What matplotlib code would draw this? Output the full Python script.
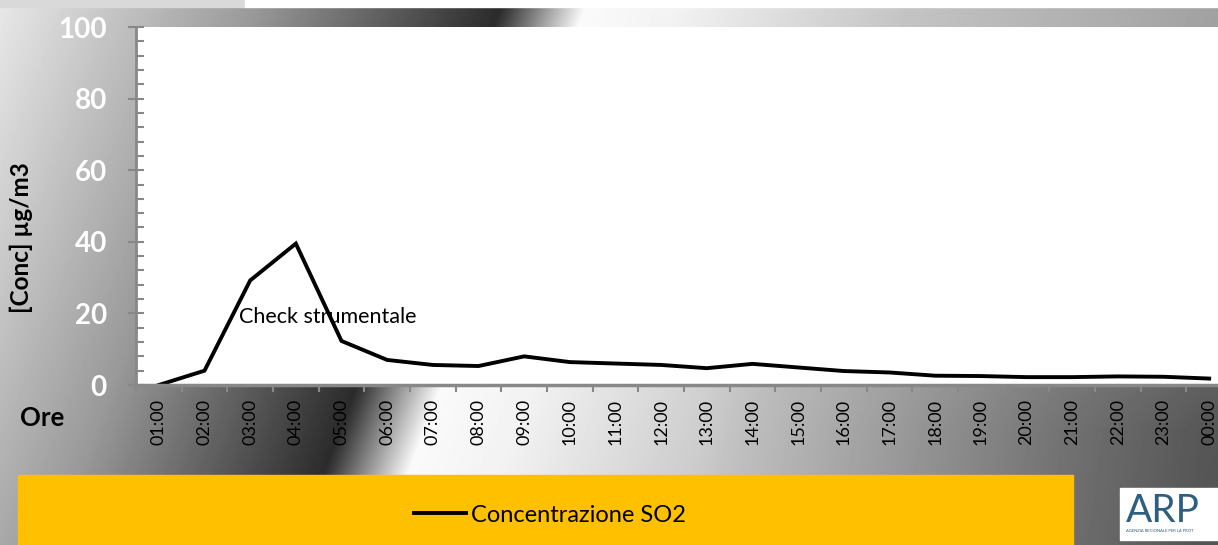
import numpy as np
import matplotlib
matplotlib.use("Agg")
import matplotlib.pyplot as plt
from matplotlib.patches import Rectangle
from matplotlib.lines import Line2D
from matplotlib.ticker import MultipleLocator, FixedLocator

plt.rcParams["font.family"] = ["Lato", "DejaVu Sans"]

hours = ["01:00", "02:00", "03:00", "04:00", "05:00", "06:00", "07:00", "08:00",
         "09:00", "10:00", "11:00", "12:00", "13:00", "14:00", "15:00", "16:00",
         "17:00", "18:00", "19:00", "20:00", "21:00", "22:00", "23:00", "00:00"]
so2 = [0, 4, 29.2, 39.5, 12.3, 7, 5.6, 5.3, 8, 6.4, 6, 5.6,
       4.7, 5.9, 4.9, 3.9, 3.5, 2.6, 2.5, 2.2, 2.2, 2.4, 2.3, 1.8]
series_name = "Concentrazione SO2"
note = "Check strumentale"

W, H = 1218, 545
fig = plt.figure(figsize=(W / 100, H / 100), dpi=100)

# sfondo grigio sfumato (stile "metallico")
yy, xx = np.mgrid[0:H, 0:W]
u = xx + 0.38 * (yy - 20)
g = np.interp(u, [0, 250, 495, 505, 580, 670, 900, 1218, 1400],
              [0.9, 0.6, 0.17, 0.25, 0.98, 0.95, 0.77, 0.63, 0.58])
g -= 0.25 * np.clip((xx - 700) / 500, 0, 1) * np.clip((yy - 30) / 400, 0, 1)
bg = fig.add_axes([0, 0, 1, 1])
bg.imshow(g, cmap="gray", vmin=0, vmax=1, extent=[0, W, H, 0],
          aspect="auto", interpolation="bilinear")
bg.set_xlim(0, W)
bg.set_ylim(H, 0)
bg.axis("off")
bg.add_patch(Rectangle((0, 0), 245, 7, color="#d9d9d9"))
bg.add_patch(Rectangle((245, 0), W - 245, 7, color="white"))

# riquadro legenda e logo
bg.add_patch(Rectangle((18, 475), 1055, 70, color="#FFC000"))
bg.add_patch(Rectangle((1120, 488), 110, 52, color="white"))
bg.text(1126, 511, "ARP", color="#2e5f80", fontsize=28, va="center", ha="left")
bg.text(1126, 531, "AGENZIA REGIONALE PER LA PROT",
        color="#2e5f80", fontsize=3, va="center", ha="left")

# grafico
ax = fig.add_axes([136 / W, (H - 385) / H, 1096 / W, (385 - 27) / H])
ax.set_facecolor("white")
x = np.arange(len(hours))
ax.plot(x, so2, color="black", lw=2.8, solid_joinstyle="miter")
ax.set_xlim(-0.5, len(hours) - 0.5)
ax.set_ylim(0, 100)

ax.yaxis.set_major_locator(MultipleLocator(20))
ax.yaxis.set_minor_locator(MultipleLocator(4))
ax.set_xticks(x)
ax.set_xticklabels(hours, rotation=90, fontsize=13)
ax.xaxis.set_minor_locator(FixedLocator(np.arange(-0.5, len(hours), 1)))

ax.tick_params(axis="y", which="major", direction="inout", length=12, width=1.5,
               color="#888888", labelsize=20, labelcolor="white", pad=15)
ax.tick_params(axis="y", which="minor", direction="in", length=6, width=1.5,
               color="#888888")
ax.tick_params(axis="x", which="major", length=0, pad=10)
ax.tick_params(axis="x", which="minor", direction="out", length=5, width=1.5,
               color="#888888")
for lab in ax.get_yticklabels():
    lab.set_fontweight("bold")

for s in ["top", "right"]:
    ax.spines[s].set_visible(False)
ax.spines["left"].set_color("#888888")
ax.spines["left"].set_linewidth(2)
ax.spines["bottom"].set_color("#888888")
ax.spines["bottom"].set_linewidth(2.5)

ax.text(1.76, 18.9, note, fontsize=15.5, va="center", ha="left")

fig.text(21 / W, 1 - 238 / H, "[Conc] µg/m3", rotation=90, fontsize=17.5,
         fontweight="bold", ha="center", va="center")
fig.text(20 / W, 1 - 418 / H, "Ore", fontsize=18.5, fontweight="bold",
         ha="left", va="center")

handle = Line2D([], [], color="black", lw=2.8)
fig.legend(handles=[handle], labels=[series_name], loc="center",
           bbox_to_anchor=(550 / W, 1 - 515 / H), frameon=False, fontsize=17,
           handlelength=2.2, handletextpad=0.2)

fig.savefig("out.png", dpi=100)
